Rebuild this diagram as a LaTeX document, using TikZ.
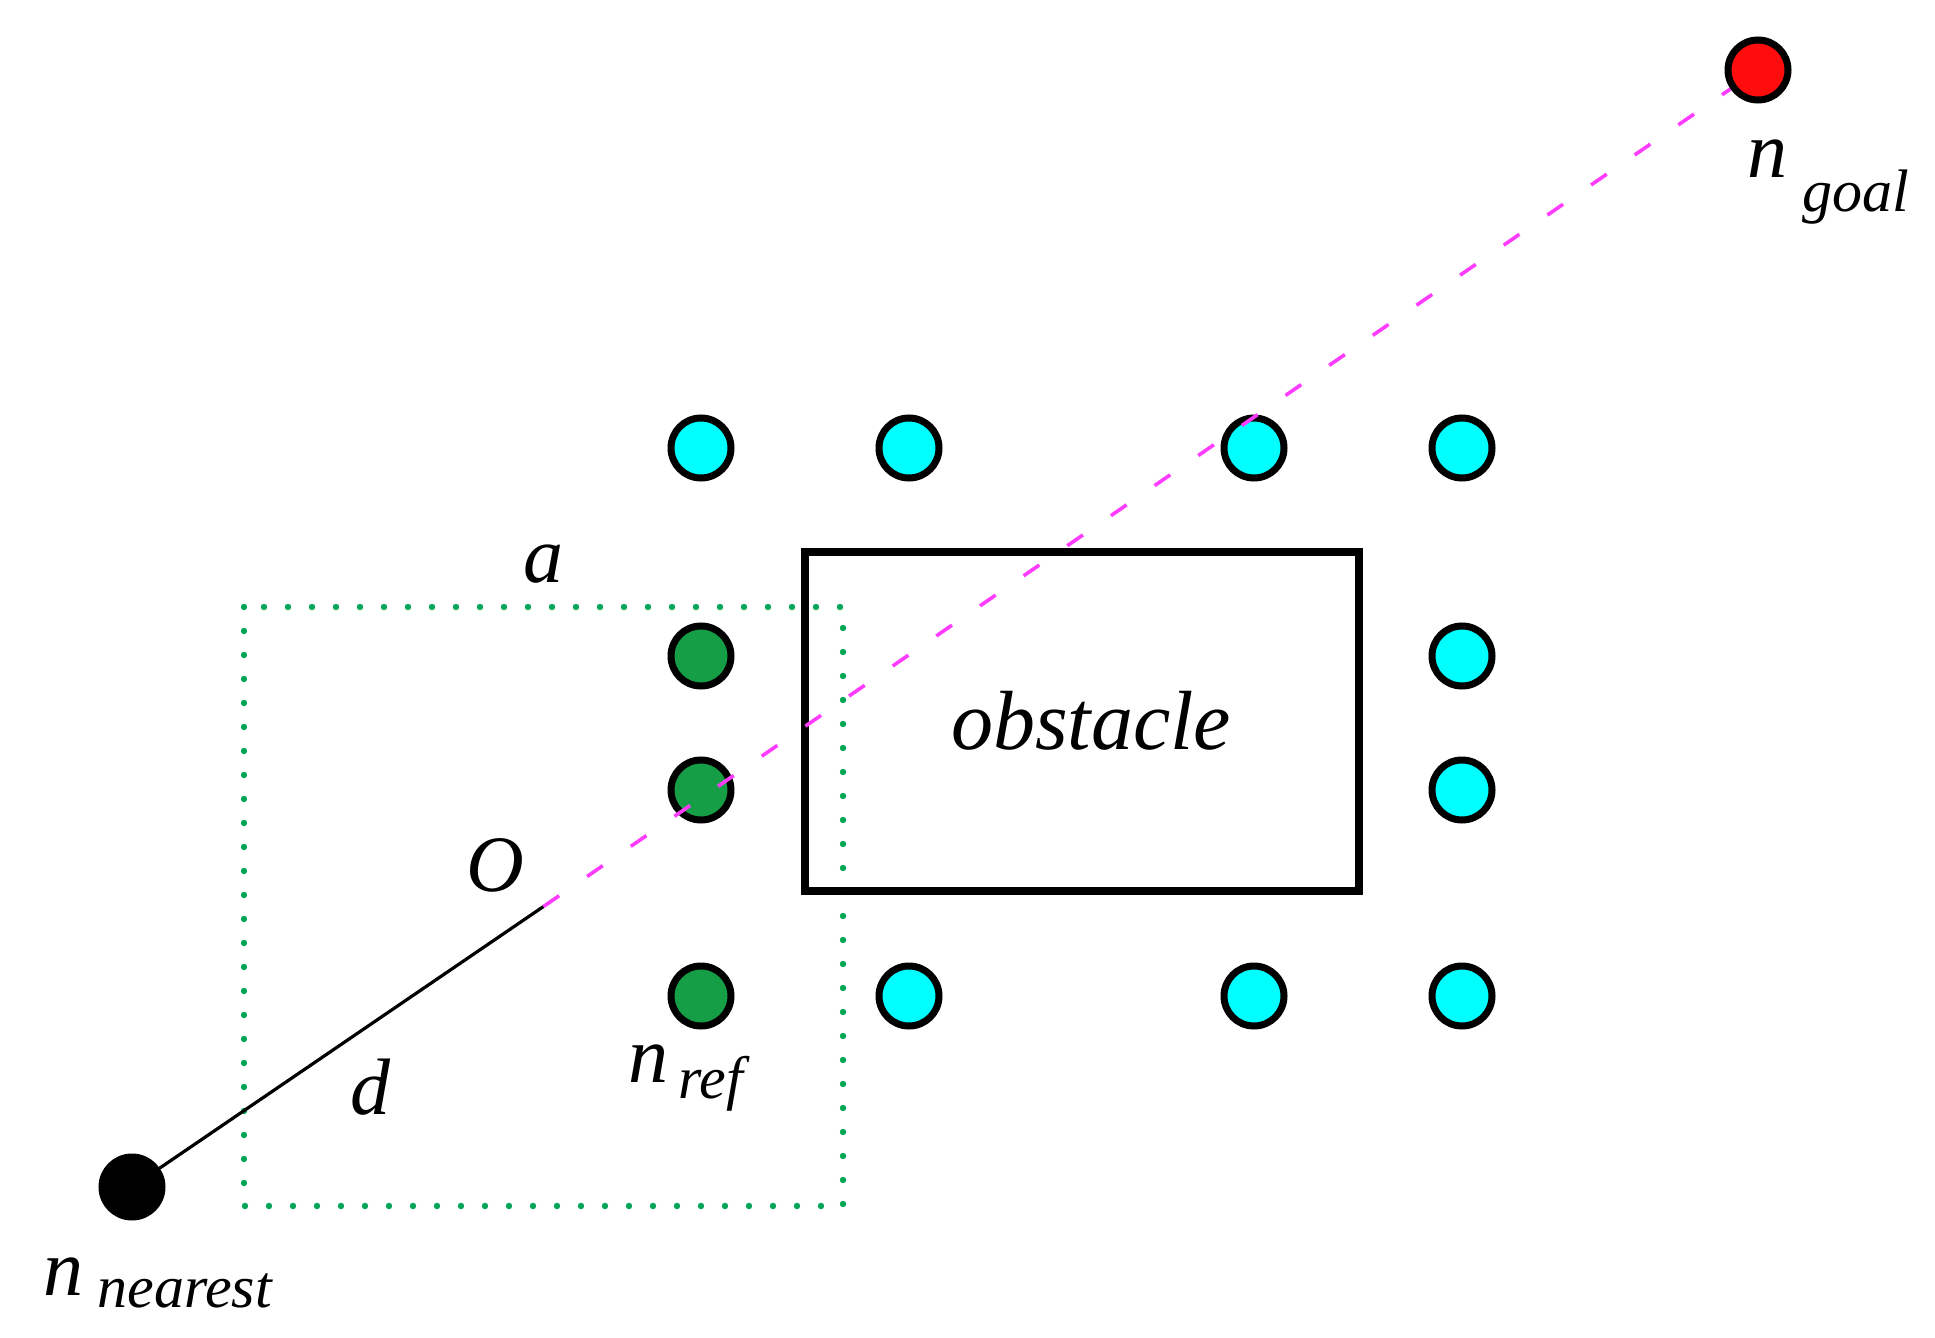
\documentclass[tikz,border=0pt]{standalone}
\usepackage{fontspec}
\setmainfont{Liberation Serif}
\definecolor{cyanfill}{RGB}{0,255,255}
\definecolor{refgreen}{RGB}{22,158,70}
\definecolor{dotgreen}{RGB}{0,165,85}
\definecolor{goalred}{RGB}{255,12,12}
\definecolor{pinkline}{RGB}{255,60,255}
\tikzset{
  pt/.style={circle,draw=black,line width=3.5pt,minimum size=30pt,inner sep=0pt},
  cyanpt/.style={pt,fill=cyanfill},
  greenpt/.style={pt,fill=refgreen},
  main/.style={anchor=base,inner sep=0pt,font=\fontsize{40}{44}\selectfont\itshape},
  mainw/.style={main,anchor=base west},
  sub/.style={anchor=base west,inner sep=0pt,font=\fontsize{30}{34}\selectfont\itshape},
  window/.style={draw=dotgreen,line width=3.2pt,line cap=round,dash pattern=on 0pt off 12pt},
  pinkdash/.style={draw=pinkline,line width=1.8pt,dash pattern=on 9.5pt off 17pt},
}
\begin{document}
\begin{tikzpicture}[x=0.5pt,y=-0.5pt]
\useasboundingbox (0,0) rectangle (1935,1338);
\fill[white] (0,0) rectangle (1935,1338);
% window of size a
\coordinate (O) at (543.5,906.5);
\coordinate (wtl) at (244,607);
\coordinate (wbr) at (843,1206);
\draw[window] (wtl) rectangle (wbr);
% obstacle
\node[draw=black,line width=3.6pt,minimum width=277pt,minimum height=169.5pt,inner sep=0pt] (obs) at (1082,721.5) {};
\node[main,font=\fontsize{42}{46}\selectfont\itshape] (obstxt) at (1091,749) {obstacle};
% points
\node[cyanpt] (c1) at (701,448) {};
\node[cyanpt] (c2) at (909,448) {};
\node[cyanpt] (c3) at (1254,448) {};
\node[cyanpt] (c4) at (1462,448) {};
\node[cyanpt] (c5) at (1462,656) {};
\node[cyanpt] (c6) at (1462,790) {};
\node[cyanpt] (c7) at (909,996) {};
\node[cyanpt] (c8) at (1254,996) {};
\node[cyanpt] (c9) at (1462,996) {};
\node[greenpt] (g1) at (701,656) {};
\node[greenpt] (g2) at (701,790) {};
\node[greenpt] (nref) at (701,996) {};
\node[pt,fill=black] (nearest) at (132,1187) {};
\node[pt,fill=goalred] (goal) at (1758,70) {};
% connectors
\draw[black,line width=1.6pt] (nearest) -- (O);
\draw[pinkdash] (O) -- (goal);
% labels
\node[main] (la) at (543,582) {a};
\node[main] (lO) at (495,891) {O};
\node[main] (ld) at (370,1114) {d};
\node[mainw] (lnr) at (628,1082) {n};
\node[sub] (lnrs) at (678,1098) {ref};
\node[mainw] (lnn) at (43,1295) {n};
\node[sub] (lnns) at (97,1307) {nearest};
\node[mainw] (lng) at (1747,177) {n};
\node[sub] (lngs) at (1802,212) {goal};
\end{tikzpicture}
\end{document}
